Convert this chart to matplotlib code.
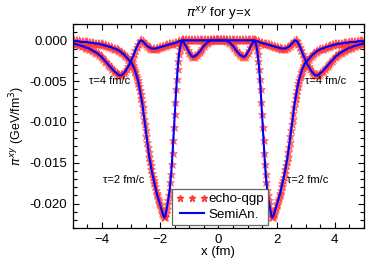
import numpy as np
import matplotlib
matplotlib.use("Agg")
import matplotlib.pyplot as plt
from matplotlib.ticker import MultipleLocator

plt.rcParams['font.family'] = ['Liberation Sans', 'DejaVu Sans']

# x grid (fm) for tau = 4: step 0.05 from -5 to 5
x_tau4 = np.round(np.linspace(-5.0, 5.0, 201), 3)
# x grid (fm) for tau = 2: finer (0.025) across the two deep wells
x_tau2 = np.round(np.concatenate([
    np.linspace(-5.0, -3.05, 40),
    np.linspace(-3.0, -1.2, 73),
    np.linspace(-1.15, 1.15, 47),
    np.linspace(1.2, 3.0, 73),
    np.linspace(3.05, 5.0, 40),
]), 3)

# pi^xy at tau = 2 fm/c
pi_tau2 = [
    # -5.00 .. -3.05
    -0.0001, -0.0001, -0.0001, -0.0001, -0.0001, -0.0002, -0.0002, -0.0002, -0.0002, -0.0002,
    -0.0002, -0.0003, -0.0003, -0.0003, -0.0003, -0.0004, -0.0004, -0.0004, -0.0004, -0.0005,
    -0.0005, -0.0006, -0.0006, -0.0007, -0.0007, -0.0008, -0.0008, -0.0009, -0.0010, -0.0010,
    -0.0011, -0.0012, -0.0013, -0.0014, -0.0016, -0.0017, -0.0019, -0.0021, -0.0023, -0.0025,
    # -3.000 .. -1.200
    -0.0027, -0.0028, -0.0030, -0.0032, -0.0034, -0.0036, -0.0039, -0.0042, -0.0045, -0.0048,
    -0.0052, -0.0056, -0.0061, -0.0066, -0.0071, -0.0076, -0.0082, -0.0089, -0.0096, -0.0103,
    -0.0110, -0.0117, -0.0124, -0.0131, -0.0137, -0.0143, -0.0148, -0.0153, -0.0158, -0.0163,
    -0.0167, -0.0171, -0.0175, -0.0179, -0.0183, -0.0187, -0.0190, -0.0193, -0.0196, -0.0199,
    -0.0202, -0.0205, -0.0208, -0.0211, -0.0214, -0.0216, -0.0217, -0.0215, -0.0211, -0.0206,
    -0.0201, -0.0196, -0.0190, -0.0183, -0.0174, -0.0164, -0.0152, -0.0138, -0.0122, -0.0106,
    -0.0090, -0.0075, -0.0060, -0.0047, -0.0035, -0.0025, -0.0017, -0.0011, -0.0006, -0.0003,
    -0.0001, 0.0000, 0.0000,
    # -1.15 .. 1.15
    0.0000, 0.0000, 0.0000, 0.0000, 0.0000, 0.0000, 0.0000, 0.0000, 0.0000, 0.0000,
    0.0000, 0.0000, 0.0000, 0.0000, 0.0000, 0.0000, 0.0000, 0.0000, 0.0000, 0.0000,
    0.0000, 0.0000, 0.0000, 0.0000, 0.0000, 0.0000, 0.0000, 0.0000, 0.0000, 0.0000,
    0.0000, 0.0000, 0.0000, 0.0000, 0.0000, 0.0000, 0.0000, 0.0000, 0.0000, 0.0000,
    0.0000, 0.0000, 0.0000, 0.0000, 0.0000, 0.0000, 0.0000,
    # 1.200 .. 3.000
    0.0000, 0.0000, -0.0001,
    -0.0003, -0.0006, -0.0011, -0.0017, -0.0025, -0.0035, -0.0047, -0.0060, -0.0075, -0.0090,
    -0.0106, -0.0122, -0.0138, -0.0152, -0.0164, -0.0174, -0.0183, -0.0190, -0.0196, -0.0201,
    -0.0206, -0.0211, -0.0215, -0.0217, -0.0216, -0.0214, -0.0211, -0.0208, -0.0205, -0.0202,
    -0.0199, -0.0196, -0.0193, -0.0190, -0.0187, -0.0183, -0.0179, -0.0175, -0.0171, -0.0167,
    -0.0163, -0.0158, -0.0153, -0.0148, -0.0143, -0.0137, -0.0131, -0.0124, -0.0117, -0.0110,
    -0.0103, -0.0096, -0.0089, -0.0082, -0.0076, -0.0071, -0.0066, -0.0061, -0.0056, -0.0052,
    -0.0048, -0.0045, -0.0042, -0.0039, -0.0036, -0.0034, -0.0032, -0.0030, -0.0028, -0.0027,
    # 3.05 .. 5.00
    -0.0025, -0.0023, -0.0021, -0.0019, -0.0017, -0.0016, -0.0014, -0.0013, -0.0012, -0.0011,
    -0.0010, -0.0010, -0.0009, -0.0008, -0.0008, -0.0007, -0.0007, -0.0006, -0.0006, -0.0005,
    -0.0005, -0.0004, -0.0004, -0.0004, -0.0004, -0.0003, -0.0003, -0.0003, -0.0003, -0.0002,
    -0.0002, -0.0002, -0.0002, -0.0002, -0.0002, -0.0001, -0.0001, -0.0001, -0.0001, -0.0001,
]

# pi^xy at tau = 4 fm/c
pi_tau4 = [
    -0.0004, -0.0004, -0.0005, -0.0005, -0.0006, -0.0006, -0.0007, -0.0007, -0.0008, -0.0009,
    -0.0009, -0.0010, -0.0011, -0.0012, -0.0013, -0.0014, -0.0015, -0.0016, -0.0018, -0.0019,
    -0.0021, -0.0023, -0.0025, -0.0027, -0.0029, -0.0031, -0.0033, -0.0035, -0.0037, -0.0039,
    -0.0040, -0.0042, -0.0043, -0.0043, -0.0042, -0.0040, -0.0038, -0.0035, -0.0032, -0.0029,
    -0.0025, -0.0021, -0.0017, -0.0012, -0.0008, -0.0004, -0.0001, 0.0000, -0.0001, -0.0003,
    -0.0005, -0.0007, -0.0008, -0.0009, -0.0010, -0.0010, -0.0010, -0.0010, -0.0009, -0.0009,
    -0.0008, -0.0008, -0.0007, -0.0007, -0.0006, -0.0006, -0.0005, -0.0005, -0.0004, -0.0004,
    -0.0003, -0.0003, -0.0002, -0.0001, -0.0001, 0.0000, -0.0002, -0.0005, -0.0008, -0.0012,
    -0.0015, -0.0018, -0.0020, -0.0020, -0.0019, -0.0018, -0.0016, -0.0014, -0.0012, -0.0009,
    -0.0007, -0.0005, -0.0003, -0.0002, -0.0001, 0.0000, 0.0000, 0.0000, 0.0000, 0.0000,
    0.0000,
    0.0000, 0.0000, 0.0000, 0.0000, 0.0000, -0.0001, -0.0002, -0.0003, -0.0005, -0.0007,
    -0.0009, -0.0012, -0.0014, -0.0016, -0.0018, -0.0019, -0.0020, -0.0020, -0.0018, -0.0015,
    -0.0012, -0.0008, -0.0005, -0.0002, 0.0000, -0.0001, -0.0001, -0.0002, -0.0003, -0.0003,
    -0.0004, -0.0004, -0.0005, -0.0005, -0.0006, -0.0006, -0.0007, -0.0007, -0.0008, -0.0008,
    -0.0009, -0.0009, -0.0010, -0.0010, -0.0010, -0.0010, -0.0009, -0.0008, -0.0007, -0.0005,
    -0.0003, -0.0001, 0.0000, -0.0001, -0.0004, -0.0008, -0.0012, -0.0017, -0.0021, -0.0025,
    -0.0029, -0.0032, -0.0035, -0.0038, -0.0040, -0.0042, -0.0043, -0.0043, -0.0042, -0.0040,
    -0.0039, -0.0037, -0.0035, -0.0033, -0.0031, -0.0029, -0.0027, -0.0025, -0.0023, -0.0021,
    -0.0019, -0.0018, -0.0016, -0.0015, -0.0014, -0.0013, -0.0012, -0.0011, -0.0010, -0.0009,
    -0.0009, -0.0008, -0.0007, -0.0007, -0.0006, -0.0006, -0.0005, -0.0005, -0.0004, -0.0004,
]

star_red = '#ff3838'

fig = plt.figure(figsize=(3.74, 2.64), dpi=100)
ax = fig.add_axes([0.195, 0.136, 0.778, 0.773])

# echo-qgp points (red stars), semi-analytic solution (blue line)
for xs, ys in ((x_tau2, pi_tau2), (x_tau4, pi_tau4)):
    ax.plot(xs, ys, ls='none', marker='*', ms=6.5, mew=0.4, color=star_red, alpha=0.7)
for xs, ys in ((x_tau2, pi_tau2), (x_tau4, pi_tau4)):
    ax.plot(xs, ys, color='#0000ff', lw=1.5)

# legend handles
h1, = ax.plot([], [], ls='none', marker='*', ms=5, color=star_red, label='echo-qgp')
h2, = ax.plot([], [], color='#0000ff', lw=1.5, label='SemiAn.')
leg = ax.legend(handles=[h1, h2], loc='lower left', bbox_to_anchor=(0.34, 0.015),
                borderaxespad=0, numpoints=3, handlelength=2.4, handletextpad=0.05,
                borderpad=0.3, labelspacing=0.25, fontsize=9.6, fancybox=False,
                framealpha=1)
leg.get_frame().set_edgecolor('#666666')
leg.get_frame().set_linewidth(0.9)

ax.text(-4.45, -0.005, 'τ=4 fm/c', fontsize=8, va='center', ha='left')
ax.text(2.97, -0.005, 'τ=4 fm/c', fontsize=8, va='center', ha='left')
ax.text(-3.95, -0.0171, 'τ=2 fm/c', fontsize=8, va='center', ha='left')
ax.text(2.35, -0.0171, 'τ=2 fm/c', fontsize=8, va='center', ha='left')

ax.set_xlim(-5, 5)
ax.set_ylim(-0.023, 0.002)
ax.xaxis.set_major_locator(MultipleLocator(2))
ax.xaxis.set_minor_locator(MultipleLocator(0.5))
ax.yaxis.set_major_locator(MultipleLocator(0.005))
ax.yaxis.set_minor_locator(MultipleLocator(0.001))
ax.yaxis.set_major_formatter(plt.FuncFormatter(lambda v, p: f'{v:.3f}'))
ax.tick_params(which='both', direction='in', top=True, right=True, labelsize=9.5, width=0.8)
ax.tick_params(which='major', length=4.5, pad=4)
ax.tick_params(which='minor', length=2.8)
for s in ax.spines.values():
    s.set_linewidth(0.9)

ax.set_title(r'$\pi^{xy}$ for y=x', fontsize=9.5, pad=5)
ax.set_xlabel('x (fm)', fontsize=9.5, labelpad=0)
ax.set_ylabel(r'$\pi^{xy}$ (GeV/fm$^3$)', fontsize=9, labelpad=2)

fig.savefig('out.png', dpi=100)
